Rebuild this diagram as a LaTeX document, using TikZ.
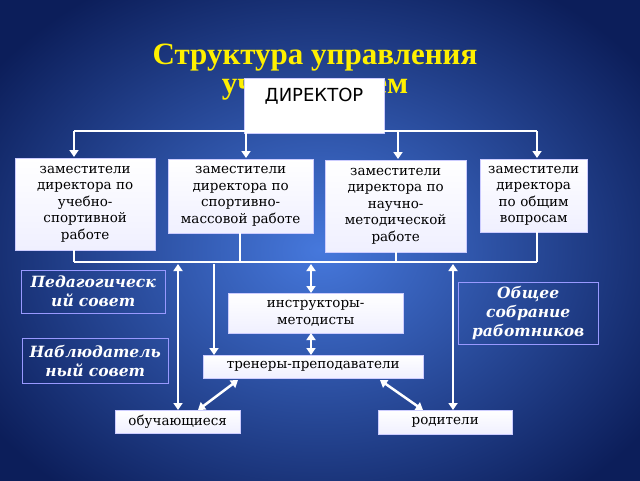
\documentclass[tikz,border=0pt]{standalone}
\usepackage{fontspec}
\setmainfont{DejaVu Serif}
\newfontfamily\titlefont{Liberation Serif}
\newfontfamily\dirfont{DejaVu Sans}
\usetikzlibrary{arrows.meta}
\tikzset{
 box/.style={draw=white!80!blue, top color=white, bottom color=blue!6, inner sep=1pt, align=center, font=\fontsize{13.5}{16.5}\selectfont},
 lbl/.style={draw=white!60!blue, line width=0.4pt, align=center, text=white, font=\fontsize{15.5}{19}\selectfont\bfseries\itshape},
 ttl/.style={text={rgb,255:red,255;green,240;blue,0}, font=\titlefont\fontsize{31}{34}\selectfont\bfseries},
 con/.style={white, line width=2.5pt},
 arr/.style={con, -{Triangle[width=9pt,length=7pt]}},
 darr/.style={con, {Triangle[width=9pt,length=7pt]}-{Triangle[width=9pt,length=7pt]}}
}
\begin{document}
\begin{tikzpicture}[x=1pt,y=-1pt]
\useasboundingbox (0,0) rectangle (640,480);
\shade[inner color={rgb,255:red,70;green,120;blue,220}, outer color={rgb,255:red,12;green,30;blue,90}] (-80,-60) rectangle (720,560);
\node[ttl] (title) at (315,58) {Структура управления};
\node[ttl] (title2) at (315,90) {учреждением};
\node[draw=white!80!blue, fill=white, minimum width=140pt, minimum height=55pt, anchor=north west] (dir) at (244,78) {};
\node[font=\dirfont\fontsize{18}{20}\selectfont] (dirt) at (314,96) {ДИРЕКТОР};
% upper bar
\coordinate (u1) at (74,131); \coordinate (u4) at (537,131);
\draw[con] (u1) -- (u4);
\node[box, minimum width=140pt, minimum height=92pt, anchor=north west, text width=138pt] (b1) at (15,158) {заместители\\директора по\\учебно-\\спортивной\\работе};
\node[box, minimum width=145pt, minimum height=74pt, anchor=north west, text width=143pt] (b2) at (168,159) {заместители\\директора по\\спортивно-\\массовой работе};
\node[box, minimum width=141pt, minimum height=92pt, anchor=north west, text width=139pt] (b3) at (325,160) {заместители\\директора по\\научно-\\методической\\работе};
\node[box, minimum width=107pt, minimum height=73pt, anchor=north west, text width=105pt] (b4) at (480,159) {заместители\\директора\\по общим\\вопросам};
\draw[arr] (u1) -- (74,157);
\draw[arr] (246,131) -- (246,158);
\draw[arr] (398,131) -- (398,159);
\draw[arr] (u4) -- (537,158);
% lower bar
\coordinate (l1) at (74,262); \coordinate (l4) at (537,262);
\draw[con] (l1) -- (l4);
\draw[con] (74,250) -- (l1);
\draw[con] (240,233) -- (240,262);
\draw[con] (396,252) -- (396,262);
\draw[con] (537,232) -- (l4);
% lower nodes
\node[box, minimum width=175pt, minimum height=40pt, anchor=north west, text width=173pt] (ins) at (228,293) {инструкторы-\\методисты};
\node[box, minimum width=220pt, minimum height=23pt, anchor=north west] (tr) at (203,355) {тренеры-преподаватели};
\node[box, minimum width=125pt, minimum height=23pt, anchor=north west] (ob) at (115,410) {обучающиеся};
\node[box, minimum width=134pt, minimum height=24pt, anchor=north west] (ro) at (378,410) {родители};
\draw[darr] (178,264) -- (178,410);
\draw[arr] (214,264) -- (214,355);
\draw[darr] (311,264) -- (311,293);
\draw[darr] (311,333) -- (311,355);
\draw[darr] (453,264) -- (453,410);
\draw[darr] (238,380) -- (198,410);
\draw[darr] (380,380) -- (423,410);
% side labels
\node[lbl, minimum width=144pt, minimum height=43pt, anchor=north west, text width=142pt, inner sep=1pt] (pe) at (21,270) {Педагогическ\\ий совет};
\node[lbl, minimum width=146pt, minimum height=45pt, anchor=north west, text width=144pt, inner sep=1pt] (na) at (22,338) {Наблюдатель\\ный совет};
\node[lbl, minimum width=140pt, minimum height=62pt, anchor=north west, text width=138pt, inner sep=1pt] (os) at (458,282) {Общее\\собрание\\работников};
\end{tikzpicture}
\end{document}
